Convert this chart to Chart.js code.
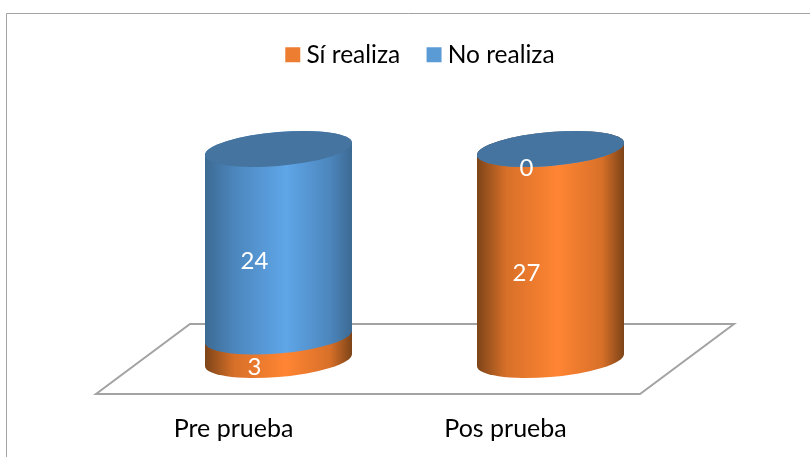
<!DOCTYPE html>
<html>
<head>
<meta charset="utf-8">
<style>
  html, body { margin: 0; padding: 0; background: #fff; }
  canvas { display: block; }
</style>
<script src="https://cdn.jsdelivr.net/npm/chart.js@4"></script>
</head>
<body>
<canvas id="chart" width="810" height="457"></canvas>
<script>
const categories = ["Pre prueba", "Pos prueba"];
const siRealiza = [3, 27];
const noRealiza = [24, 0];

const fontName = "Lato, Carlito, sans-serif";
const orange = { legend: "#ed7d31", edge: "#7d4418", side: "#d87029", mid: "#ff8533" };
const blue = { legend: "#5b9bd5", edge: "#3c6a93", side: "#4c86bd", mid: "#5fa6e8" };
const capColor = "#44749f";
const lineColor = "#a3a3a3";

//tilt and depth of the ellipses
const shear = 0.082;
const ellipseHeight = 17;

function sidePath(c, el, tall){
    const a = el.width / 2;
    c.save();
    c.transform(1, -shear, 0, 1, el.x, el.base);
    c.beginPath();
    c.ellipse(0, 0, a, ellipseHeight, 0, Math.PI, 0, true);
    c.ellipse(0, -tall, a, ellipseHeight, 0, 0, Math.PI, true);
    c.closePath();
    c.restore();
}

function sideGradient(c, el, colors){
    const left = el.x - el.width / 2;
    const g = c.createLinearGradient(left, 0, left + el.width, 0);
    g.addColorStop(0, colors.edge);
    g.addColorStop(0.2, colors.side);
    g.addColorStop(0.55, colors.mid);
    g.addColorStop(0.85, colors.side);
    g.addColorStop(1, colors.edge);
    return g;
}

const cylinderPlugin = {
    id: "cylinders",
    beforeDraw(chart){
        const c = chart.ctx;
        c.save();
        c.strokeStyle = lineColor;
        c.lineWidth = 1;
        c.beginPath();
        c.moveTo(6.5, 457);
        c.lineTo(6.5, 13.5);
        c.lineTo(810, 13.5);
        c.stroke();
        c.restore();
    },
    afterLayout(chart){
        chart.legend.left += 8.5;
        chart.legend.right += 8.5;
    },
    beforeDatasetsDraw(chart){
        //floor of the 3d chart, follows the plot area
        const c = chart.ctx;
        const area = chart.chartArea;
        c.save();
        c.strokeStyle = lineColor;
        c.lineWidth = 2;
        c.beginPath();
        c.moveTo(area.left - 46.5, area.bottom + 34);
        c.lineTo(area.right - 46.5, area.bottom + 34);
        c.lineTo(area.right + 47.5, area.bottom - 36);
        c.lineTo(area.left + 47.5, area.bottom - 36);
        c.closePath();
        c.stroke();
        c.restore();
    },
    beforeDatasetDraw(){
        return false;
    },
    afterDatasetsDraw(chart){
        const c = chart.ctx;
        const palette = [orange, blue];
        palette.forEach((colors, d) => {
            chart.getDatasetMeta(d).data.forEach(el => {
                sidePath(c, el, el.base - el.y);
                c.fillStyle = sideGradient(c, el, colors);
                c.fill();
            });
        });
        //top caps
        chart.getDatasetMeta(1).data.forEach(el => {
            c.save();
            c.transform(1, -shear, 0, 1, el.x, el.y);
            c.beginPath();
            c.ellipse(0, 0, el.width / 2, ellipseHeight, 0, 0, Math.PI * 2);
            c.restore();
            c.fillStyle = capColor;
            c.fill();
        });
        //value labels
        c.save();
        c.fillStyle = "#fff";
        c.font = "24px " + fontName;
        c.textAlign = "center";
        c.textBaseline = "middle";
        [siRealiza, noRealiza].forEach((values, d) => {
            chart.getDatasetMeta(d).data.forEach((el, i) => {
                c.fillText(values[i], el.x - 24, (el.y + el.base) / 2 + 19);
            });
        });
        c.restore();
    }
};

new Chart(document.getElementById("chart"), {
    type: "bar",
    data: {
        labels: categories,
        datasets: [
            { label: "Sí realiza", data: siRealiza, backgroundColor: orange.legend, barThickness: 147 },
            { label: "No realiza", data: noRealiza, backgroundColor: blue.legend, barThickness: 147 }
        ]
    },
    plugins: [cylinderPlugin],
    options: {
        responsive: false,
        animation: false,
        layout: { padding: { left: 142.5, right: 123.5, top: 10, bottom: 15 } },
        plugins: {
            tooltip: { enabled: false },
            legend: {
                position: "top",
                labels: {
                    color: "#000",
                    font: { family: fontName, size: 24.5 },
                    padding: 32.5,
                    boxWidth: 2.75,
                    boxHeight: 2.75,
                    generateLabels(chart){
                        return chart.data.datasets.map((set, i) => ({
                            text: set.label,
                            fillStyle: set.backgroundColor,
                            strokeStyle: set.backgroundColor,
                            lineWidth: 12.25,
                            datasetIndex: i
                        }));
                    }
                }
            }
        },
        scales: {
            x: {
                stacked: true,
                grid: { display: false, drawTicks: false },
                border: { display: false },
                afterFit(scale){
                    scale.height = 82;
                },
                ticks: {
                    color: "#000",
                    font: { family: fontName, size: 25 },
                    padding: 54,
                    labelOffset: -45,
                    maxRotation: 0
                }
            },
            y: {
                stacked: true,
                display: false,
                min: 0,
                max: 36.2
            }
        }
    }
});
</script>
</body>
</html>
